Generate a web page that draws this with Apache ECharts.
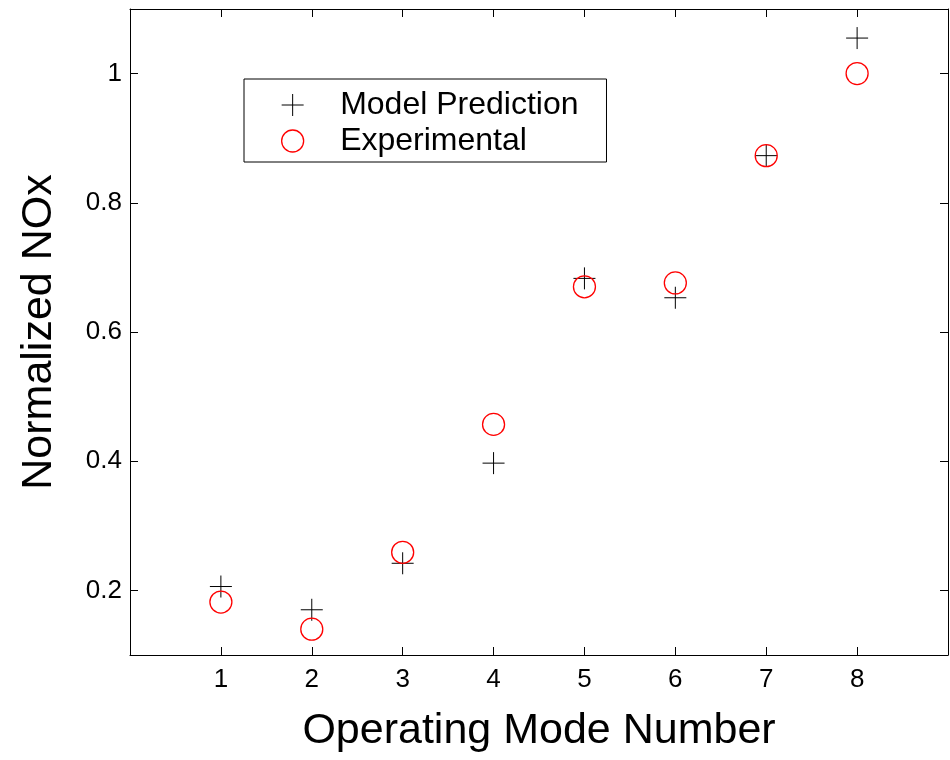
<!DOCTYPE html>
<html>
<head>
<meta charset="utf-8">
<script src="https://cdn.jsdelivr.net/npm/echarts@6/dist/echarts.min.js"></script>
<style>
  html, body { margin: 0; padding: 0; background: #fff; }
  #chart { width: 950px; height: 760px; }
</style>
</head>
<body>
<div id="chart"></div>
<script>
// Operating modes 1..8 and normalized NOx values
const modes = [1, 2, 3, 4, 5, 6, 7, 8];
const modelPrediction = [0.206, 0.170, 0.242, 0.397, 0.683, 0.653, 0.873, 1.055];
const experimental = [0.182, 0.140, 0.259, 0.457, 0.670, 0.676, 0.873, 1.000];
const xTicks = [1, 2, 3, 4, 5, 6, 7, 8];
const yTicks = [0.2, 0.4, 0.6, 0.8, 1];

const FONT = '"Liberation Sans", Arial, sans-serif';
const PLUS = 'path://M0,10 L20,10 M10,0 L10,20';

const pairs = (xs, ys) => xs.map((x, i) => [x, ys[i]]);

const frameAxis = {
  axisLine: { show: true, onZero: false, lineStyle: { color: '#000', width: 1 } },
  splitLine: { show: false }
};

const chart = echarts.init(document.getElementById('chart'), null, { renderer: 'canvas' });
chart.setOption({
  animation: false,
  backgroundColor: '#fff',
  textStyle: { fontFamily: FONT },
  grid: { left: 130, right: 2, top: 9, bottom: 105, containLabel: false },
  legend: {
    orient: 'vertical',
    left: 244,
    top: 79,
    padding: [10, 28, 5, 37],
    itemWidth: 85,
    itemHeight: 22,
    itemGap: 4,
    borderColor: '#000',
    borderWidth: 1,
    backgroundColor: '#fff',
    textStyle: { fontFamily: FONT, fontSize: 32, color: '#000' },
    data: [
      { name: 'Model Prediction', icon: PLUS,
        itemStyle: { color: 'transparent', borderColor: '#000', borderWidth: 1 } },
      { name: 'Experimental', icon: 'circle',
        itemStyle: { color: 'transparent', borderColor: '#ff0000', borderWidth: 1.3 } }
    ]
  },
  xAxis: [
    Object.assign({
      type: 'value', min: 0, max: 9, position: 'bottom',
      axisTick: { show: true, inside: true, length: 8, customValues: xTicks, lineStyle: { color: '#000' } },
      axisLabel: { show: true, customValues: xTicks, margin: 12, fontSize: 26, color: '#000', fontFamily: FONT },
      name: 'Operating Mode Number',
      nameLocation: 'middle',
      nameGap: 55,
      nameTextStyle: { fontSize: 43, color: '#000', fontFamily: FONT }
    }, frameAxis),
    Object.assign({
      type: 'value', min: 0, max: 9, position: 'top',
      axisTick: { show: true, inside: true, length: 8, customValues: xTicks, lineStyle: { color: '#000' } },
      axisLabel: { show: false }
    }, frameAxis)
  ],
  yAxis: [
    Object.assign({
      type: 'value', min: 0.1, max: 1.1, position: 'left',
      axisTick: { show: true, inside: true, length: 8, customValues: yTicks, lineStyle: { color: '#000' } },
      axisLabel: { show: true, customValues: yTicks, margin: 8, fontSize: 26, color: '#000', fontFamily: FONT },
      name: 'Normalized NOx',
      nameLocation: 'middle',
      nameGap: 69,
      nameTextStyle: { fontSize: 43, color: '#000', fontFamily: FONT }
    }, frameAxis),
    Object.assign({
      type: 'value', min: 0.1, max: 1.1, position: 'right',
      axisTick: { show: true, inside: true, length: 8, customValues: yTicks, lineStyle: { color: '#000' } },
      axisLabel: { show: false }
    }, frameAxis)
  ],
  series: [
    {
      name: 'Model Prediction',
      type: 'scatter',
      xAxisIndex: 0, yAxisIndex: 0,
      symbol: PLUS,
      symbolSize: 22,
      itemStyle: { color: 'transparent', borderColor: '#000', borderWidth: 1, opacity: 1 },
      emphasis: { disabled: true },
      data: pairs(modes, modelPrediction)
    },
    {
      name: 'Experimental',
      type: 'scatter',
      xAxisIndex: 0, yAxisIndex: 0,
      symbol: 'circle',
      symbolSize: 22,
      itemStyle: { color: 'transparent', borderColor: '#ff0000', borderWidth: 1.3, opacity: 1 },
      emphasis: { disabled: true },
      data: pairs(modes, experimental)
    }
  ]
});
</script>
</body>
</html>
